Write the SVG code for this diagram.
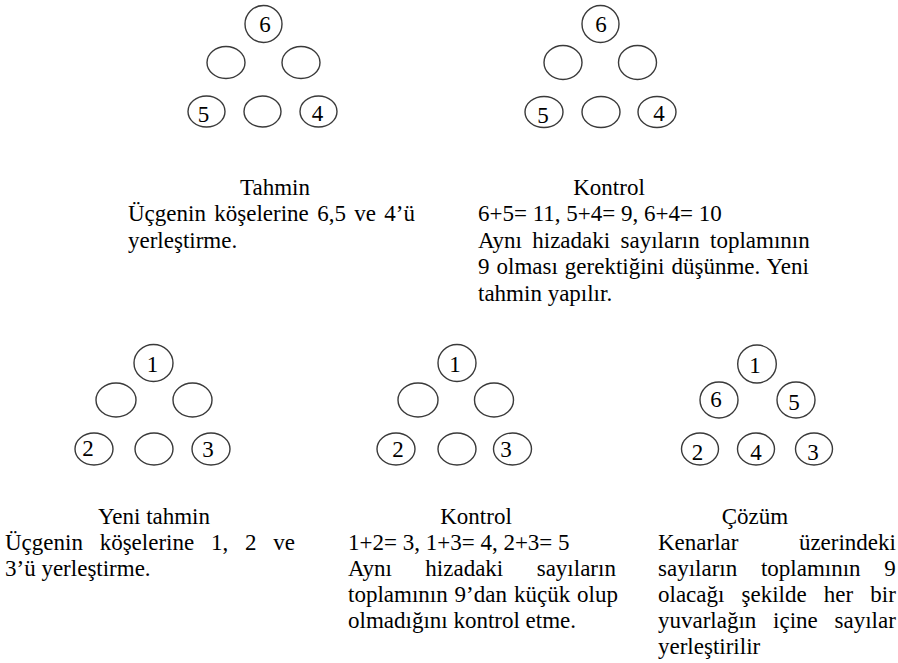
<svg xmlns="http://www.w3.org/2000/svg" width="898" height="663" viewBox="0 0 898 663">
  <style>
    .c { fill: #ffffff; stroke: #3a3a3a; stroke-width: 1.4; }
    .n { font-family: "Liberation Serif", "Times New Roman", serif; font-size: 23px; fill: #000000; text-anchor: middle; }
    .t { font-family: "Liberation Serif", "Times New Roman", serif; font-size: 23px; fill: #000000; }
    .h { text-anchor: middle; }
  </style>
  <rect x="0" y="0" width="898" height="663" fill="#ffffff"/>

  <!-- Step 1: first guess -->
  <g id="tahmin">
    <ellipse class="c" cx="263.5" cy="24" rx="18.5" ry="18.5"/>
    <ellipse class="c" cx="226" cy="62.5" rx="19" ry="16"/>
    <ellipse class="c" cx="301" cy="62.5" rx="19" ry="16"/>
    <ellipse class="c" cx="206.5" cy="111.5" rx="18.5" ry="15.5"/>
    <ellipse class="c" cx="262.5" cy="111.5" rx="18.5" ry="15.5"/>
    <ellipse class="c" cx="318.5" cy="111.5" rx="18.5" ry="15.5"/>
    <text class="n" x="265" y="31.5">6</text>
    <text class="n" x="203.5" y="121.5">5</text>
    <text class="n" x="317.5" y="121">4</text>
    <text class="t h" x="275" y="194.5">Tahmin</text>
    <text class="t" x="128" y="221" word-spacing="2.6">Üçgenin köşelerine 6,5 ve 4’ü</text>
    <text class="t" x="128" y="247.7">yerleştirme.</text>
  </g>

  <!-- Step 2: check -->
  <g id="kontrol-1">
    <ellipse class="c" cx="600.5" cy="24" rx="18.5" ry="18.5"/>
    <ellipse class="c" cx="563" cy="62.5" rx="19" ry="17"/>
    <ellipse class="c" cx="637.5" cy="62.5" rx="19" ry="17"/>
    <ellipse class="c" cx="544" cy="112" rx="19" ry="15.5"/>
    <ellipse class="c" cx="601" cy="112" rx="19" ry="15.5"/>
    <ellipse class="c" cx="657" cy="112" rx="19" ry="15.5"/>
    <text class="n" x="601" y="31.5">6</text>
    <text class="n" x="543" y="123">5</text>
    <text class="n" x="659" y="121">4</text>
    <text class="t h" x="609" y="194.5">Kontrol</text>
    <text class="t" x="478" y="221">6+5= 11, 5+4= 9, 6+4= 10</text>
    <text class="t" x="478" y="247.7" word-spacing="4.6">Aynı hizadaki sayıların toplamının</text>
    <text class="t" x="478" y="274.4" word-spacing="1.25">9 olması gerektiğini düşünme. Yeni</text>
    <text class="t" x="478" y="301">tahmin yapılır.</text>
  </g>

  <!-- Step 3: new guess -->
  <g id="yeni-tahmin">
    <ellipse class="c" cx="153.5" cy="363" rx="19.5" ry="18.5"/>
    <ellipse class="c" cx="116" cy="400" rx="20" ry="17"/>
    <ellipse class="c" cx="192.5" cy="400" rx="19.5" ry="17"/>
    <ellipse class="c" cx="94" cy="449" rx="19" ry="16"/>
    <ellipse class="c" cx="154" cy="449" rx="19" ry="16"/>
    <ellipse class="c" cx="211" cy="449" rx="19" ry="16"/>
    <text class="n" x="152.5" y="371.5">1</text>
    <text class="n" x="88" y="456">2</text>
    <text class="n" x="208" y="456.5">3</text>
    <text class="t h" x="154" y="524">Yeni tahmin</text>
    <text class="t" x="5" y="550" word-spacing="11">Üçgenin köşelerine 1, 2 ve</text>
    <text class="t" x="5" y="576">3’ü yerleştirme.</text>
  </g>

  <!-- Step 4: check -->
  <g id="kontrol-2">
    <ellipse class="c" cx="457" cy="363" rx="19" ry="18.5"/>
    <ellipse class="c" cx="418" cy="400" rx="20" ry="17"/>
    <ellipse class="c" cx="494" cy="400" rx="19.5" ry="17"/>
    <ellipse class="c" cx="396" cy="449" rx="19" ry="16"/>
    <ellipse class="c" cx="457" cy="449" rx="19" ry="16"/>
    <ellipse class="c" cx="512.5" cy="449" rx="19" ry="16"/>
    <text class="n" x="455" y="371.5">1</text>
    <text class="n" x="398" y="456.5">2</text>
    <text class="n" x="506" y="456.5">3</text>
    <text class="t h" x="476" y="524">Kontrol</text>
    <text class="t" x="348" y="550">1+2= 3, 1+3= 4, 2+3= 5</text>
    <text class="t" x="348" y="576" word-spacing="27.7">Aynı hizadaki sayıların</text>
    <text class="t" x="348" y="602" word-spacing="1.2">toplamının 9’dan küçük olup</text>
    <text class="t" x="348" y="628">olmadığını kontrol etme.</text>
  </g>

  <!-- Step 5: solution -->
  <g id="cozum">
    <ellipse class="c" cx="757" cy="364" rx="19.3" ry="19"/>
    <ellipse class="c" cx="719" cy="400" rx="19" ry="18"/>
    <ellipse class="c" cx="796" cy="400" rx="19" ry="18"/>
    <ellipse class="c" cx="700" cy="449" rx="18.5" ry="16"/>
    <ellipse class="c" cx="756" cy="449" rx="18.5" ry="16"/>
    <ellipse class="c" cx="814" cy="449" rx="18.5" ry="16"/>
    <text class="n" x="755" y="373">1</text>
    <text class="n" x="716" y="406.7">6</text>
    <text class="n" x="794" y="410">5</text>
    <text class="n" x="697.5" y="460">2</text>
    <text class="n" x="756" y="460">4</text>
    <text class="n" x="813" y="460">3</text>
    <text class="t h" x="755" y="524">Çözüm</text>
    <text class="t" x="658" y="550" word-spacing="54.7">Kenarlar üzerindeki</text>
    <text class="t" x="658" y="576" word-spacing="18">sayıların toplamının 9</text>
    <text class="t" x="658" y="602" word-spacing="11.4">olacağı şekilde her bir</text>
    <text class="t" x="658" y="628" word-spacing="11">yuvarlağın içine sayılar</text>
    <text class="t" x="658" y="654">yerleştirilir</text>
  </g>

  <g id="connectors"/>
</svg>
